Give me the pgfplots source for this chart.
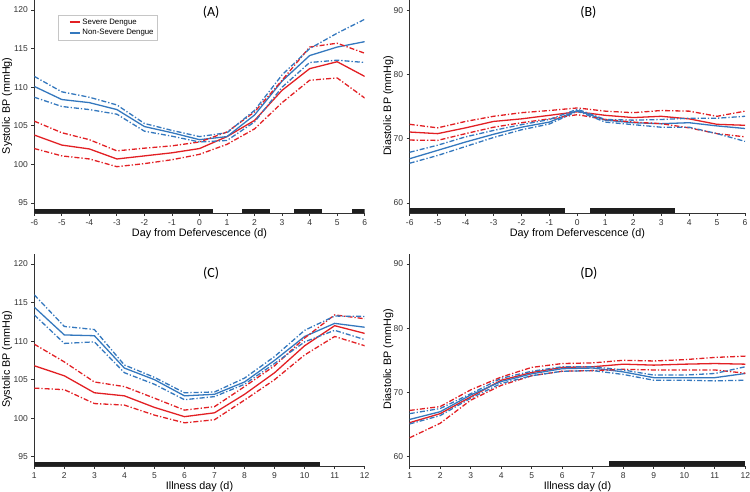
\documentclass[border=0pt]{standalone}
\usepackage{fontspec}
\setmainfont{Liberation Sans}
\newfontfamily\titlefont{Carlito}
\usepackage{pgfplots}
\pgfplotsset{compat=1.18}
\definecolor{sred}{RGB}{226,32,36}
\definecolor{nblue}{RGB}{52,120,190}
\definecolor{axgray}{RGB}{50,50,50}
\definecolor{barblack}{RGB}{30,30,30}
\tikzset{dashdot/.style={dash pattern=on 5pt off 2pt on 1.3pt off 2pt}}
\pgfplotsset{
  panel/.style={
    scale only axis,
    axis x line=bottom, axis y line=left,
    axis line style={-, draw=axgray, line width=0.8pt},
    tick align=outside, major tick length=3pt,
    tick style={draw=axgray, line width=0.8pt},
    tick label style={font=\fontsize{8.5}{10}\selectfont, text=axgray},
    /pgf/number format/assume math mode=true,
    label style={font=\fontsize{10.8}{13}\selectfont, text=black},
    title style={font=\titlefont\fontsize{14}{16}\selectfont, anchor=center, yshift=-6pt},
  },
  mean/.style={line width=1.3pt, no marks},
  ci/.style={line width=1.3pt, no marks, dashdot, forget plot},
  bar/.style={fill=barblack, draw=none, forget plot},
}
\begin{document}
\begin{tikzpicture}
\useasboundingbox (0,0) rectangle (750pt,492pt);
% ---------------- (A)
\begin{axis}[panel, at={(34.3pt,279pt)}, anchor=south west,
  width=330.4pt, height=213pt,
  xmin=-6, xmax=6, ymin=93.7, ymax=121.3,
  xtick={-6,...,6}, ytick={95,100,...,120},
  xlabel={Day from Defervescence (d)}, ylabel={Systolic BP (mmHg)},
  xlabel style={at={(axis description cs:0.5,0)}, anchor=center, yshift=-20.6pt},
  ylabel style={at={(axis description cs:-0.082,0.503)}, anchor=center},
  title={(A)}, title style={at={(axis description cs:0.535,0.94)}},
  legend style={at={(axis description cs:0.0717,0.93)}, anchor=north west, draw=gray!45,
    font=\fontsize{7.8}{9}\selectfont, inner xsep=2pt, inner ysep=1.5pt, row sep=0pt, legend cell align=left},
  legend image code/.code={\path (-9pt,0pt); \draw[#1] (0pt,0pt) -- (10pt,0pt);},
]
\addplot[bar] coordinates {(-6,93.7) (0.5,93.7) (0.5,94.28) (-6,94.28)} -- cycle;
\addplot[bar] coordinates {(1.55,93.7) (2.55,93.7) (2.55,94.28) (1.55,94.28)} -- cycle;
\addplot[bar] coordinates {(3.45,93.7) (4.45,93.7) (4.45,94.28) (3.45,94.28)} -- cycle;
\addplot[bar] coordinates {(5.55,93.7) (6,93.7) (6,94.28) (5.55,94.28)} -- cycle;
\addplot[mean, sred] coordinates {(-6,103.8) (-5,102.5) (-4,102.0) (-3,100.7) (-2,101.1) (-1,101.5) (0,102.05) (1,103.6) (2,105.7) (3,109.6) (4,112.4) (5,113.3) (6,111.4)};
\addlegendentry{Severe Dengue}
\addplot[mean, nblue] coordinates {(-6,110.1) (-5,108.4) (-4,108.0) (-3,107.1) (-2,104.9) (-1,104.1) (0,103.2) (1,103.6) (2,106.4) (3,110.8) (4,114.1) (5,115.2) (6,115.9)};
\addlegendentry{Non-Severe Dengue}
\addplot[ci, sred] coordinates {(-6,105.6) (-5,104.1) (-4,103.2) (-3,101.75) (-2,102.1) (-1,102.4) (0,102.9) (1,104.2) (2,106.8) (3,110.9) (4,115.2) (5,115.7) (6,114.4)};
\addplot[ci, sred] coordinates {(-6,102.05) (-5,101.1) (-4,100.7) (-3,99.7) (-2,100.1) (-1,100.6) (0,101.3) (1,102.6) (2,104.6) (3,108.0) (4,110.9) (5,111.2) (6,108.6)};
\addplot[ci, nblue] coordinates {(-6,111.4) (-5,109.4) (-4,108.7) (-3,107.7) (-2,105.3) (-1,104.4) (0,103.6) (1,104.1) (2,107.0) (3,111.6) (4,115.0) (5,117.0) (6,118.8)};
\addplot[ci, nblue] coordinates {(-6,108.7) (-5,107.5) (-4,107.1) (-3,106.5) (-2,104.3) (-1,103.65) (0,102.9) (1,103.1) (2,105.5) (3,110.0) (4,113.2) (5,113.5) (6,113.2)};
\end{axis}
% ---------------- (B)
\begin{axis}[panel, at={(409.7pt,279pt)}, anchor=south west,
  width=335.3pt, height=213pt,
  xmin=-6, xmax=6, ymin=58.45, ymax=91.6,
  xtick={-6,...,6}, ytick={60,70,80,90},
  xlabel={Day from Defervescence (d)}, ylabel={Diastolic BP (mmHg)},
  xlabel style={at={(axis description cs:0.5,0)}, anchor=center, yshift=-20.6pt},
  ylabel style={at={(axis description cs:-0.064,0.503)}, anchor=center},
  title={(B)}, title style={at={(axis description cs:0.533,0.94)}},
]
\addplot[bar] coordinates {(-6,58.45) (-0.43,58.45) (-0.43,59.15) (-6,59.15)} -- cycle;
\addplot[bar] coordinates {(0.45,58.45) (3.5,58.45) (3.5,59.15) (0.45,59.15)} -- cycle;
\addplot[mean, sred] coordinates {(-6,71.05) (-5,70.8) (-4,71.7) (-3,72.7) (-2,73.1) (-1,73.65) (0,74.2) (1,73.65) (2,73.3) (3,73.5) (4,73.1) (5,72.25) (6,72.1)};
\addplot[mean, nblue] coordinates {(-6,66.9) (-5,68.2) (-4,69.5) (-3,70.7) (-2,71.8) (-1,72.6) (0,74.4) (1,72.9) (2,72.5) (3,72.35) (4,72.5) (5,72.0) (6,71.6)};
\addplot[ci, sred] coordinates {(-6,72.25) (-5,71.7) (-4,72.7) (-3,73.5) (-2,74.06) (-1,74.4) (0,74.8) (1,74.3) (2,74.06) (3,74.4) (4,74.3) (5,73.5) (6,74.3)};
\addplot[ci, sred] coordinates {(-6,69.8) (-5,69.75) (-4,70.8) (-3,71.8) (-2,72.5) (-1,73.1) (0,73.75) (1,73.0) (2,72.6) (3,72.35) (4,71.7) (5,70.8) (6,70.3)};
\addplot[ci, nblue] coordinates {(-6,67.9) (-5,69.0) (-4,70.3) (-3,71.3) (-2,72.2) (-1,73.0) (0,74.6) (1,73.0) (2,72.9) (3,73.0) (4,73.2) (5,73.2) (6,73.5)};
\addplot[ci, nblue] coordinates {(-6,66.2) (-5,67.4) (-4,68.8) (-3,70.2) (-2,71.4) (-1,72.3) (0,74.3) (1,72.6) (2,72.2) (3,71.8) (4,71.8) (5,70.8) (6,69.6)};
\end{axis}
% ---------------- (C)
\begin{axis}[panel, at={(34.3pt,26pt)}, anchor=south west,
  width=330.4pt, height=212pt,
  xmin=1, xmax=12, ymin=93.8, ymax=121.3,
  xtick={1,...,12}, ytick={95,100,...,120},
  xlabel={Illness day (d)}, ylabel={Systolic BP (mmHg)},
  xlabel style={at={(axis description cs:0.5,0)}, anchor=center, yshift=-20.7pt},
  ylabel style={at={(axis description cs:-0.082,0.503)}, anchor=center},
  title={(C)}, title style={at={(axis description cs:0.535,0.909)}},
]
\addplot[bar] coordinates {(1,93.8) (10.5,93.8) (10.5,94.38) (1,94.38)} -- cycle;
\addplot[mean, sred] coordinates {(1,106.8) (2,105.5) (3,103.3) (4,102.9) (5,101.4) (6,100.2) (7,100.7) (8,103.1) (9,105.9) (10,109.4) (11,112.0) (12,111.0)};
\addplot[mean, nblue] coordinates {(1,114.4) (2,110.8) (3,110.7) (4,106.5) (5,105.0) (6,102.9) (7,103.1) (8,104.7) (9,107.5) (10,110.6) (11,112.3) (12,111.8)};
\addplot[ci, sred] coordinates {(1,109.6) (2,107.3) (3,104.7) (4,104.1) (5,102.6) (6,101.05) (7,101.5) (8,104.1) (9,106.8) (10,110.4) (11,113.4) (12,112.9)};
\addplot[ci, sred] coordinates {(1,103.9) (2,103.7) (3,101.9) (4,101.7) (5,100.4) (6,99.4) (7,99.8) (8,102.35) (9,105.0) (10,108.2) (11,110.6) (12,109.4)};
\addplot[ci, nblue] coordinates {(1,116.0) (2,111.9) (3,111.5) (4,106.9) (5,105.3) (6,103.3) (7,103.4) (8,105.2) (9,108.0) (10,111.4) (11,113.25) (12,113.2)};
\addplot[ci, nblue] coordinates {(1,113.4) (2,109.7) (3,109.9) (4,105.9) (5,104.4) (6,102.4) (7,102.8) (8,104.4) (9,107.1) (10,109.9) (11,111.4) (12,110.2)};
\end{axis}
% ---------------- (D)
\begin{axis}[panel, at={(409.7pt,26pt)}, anchor=south west,
  width=335.6pt, height=212pt,
  xmin=1, xmax=12, ymin=58.55, ymax=91.55,
  xtick={1,...,12}, ytick={60,70,80,90},
  xlabel={Illness day (d)}, ylabel={Diastolic BP (mmHg)},
  xlabel style={at={(axis description cs:0.5,0)}, anchor=center, yshift=-20.7pt},
  ylabel style={at={(axis description cs:-0.064,0.503)}, anchor=center},
  title={(D)}, title style={at={(axis description cs:0.534,0.909)}},
]
\addplot[bar] coordinates {(7.52,58.55) (12,58.55) (12,59.25) (7.52,59.25)} -- cycle;
\addplot[mean, sred] coordinates {(1,65.3) (2,66.7) (3,69.3) (4,71.9) (5,73.1) (6,73.9) (7,74.0) (8,74.4) (9,74.25) (10,74.4) (11,74.5) (12,74.4)};
\addplot[mean, nblue] coordinates {(1,65.8) (2,67.0) (3,69.6) (4,71.7) (5,72.9) (6,73.7) (7,73.8) (8,73.2) (9,72.3) (10,72.3) (11,72.3) (12,72.95)};
\addplot[ci, sred] coordinates {(1,67.2) (2,67.8) (3,70.4) (4,72.4) (5,73.9) (6,74.5) (7,74.6) (8,75.0) (9,74.9) (10,75.1) (11,75.45) (12,75.65)};
\addplot[ci, sred] coordinates {(1,62.95) (2,65.2) (3,68.8) (4,71.1) (5,72.6) (6,73.3) (7,73.4) (8,73.6) (9,73.5) (10,73.5) (11,73.5) (12,73.0)};
\addplot[ci, nblue] coordinates {(1,66.7) (2,67.5) (3,69.8) (4,72.2) (5,73.3) (6,74.0) (7,74.0) (8,73.5) (9,72.7) (10,72.7) (11,72.95) (12,74.0)};
\addplot[ci, nblue] coordinates {(1,65.1) (2,66.4) (3,69.1) (4,71.4) (5,72.6) (6,73.3) (7,73.4) (8,72.8) (9,71.9) (10,71.9) (11,71.8) (12,71.9)};
\end{axis}
\end{tikzpicture}
\end{document}
